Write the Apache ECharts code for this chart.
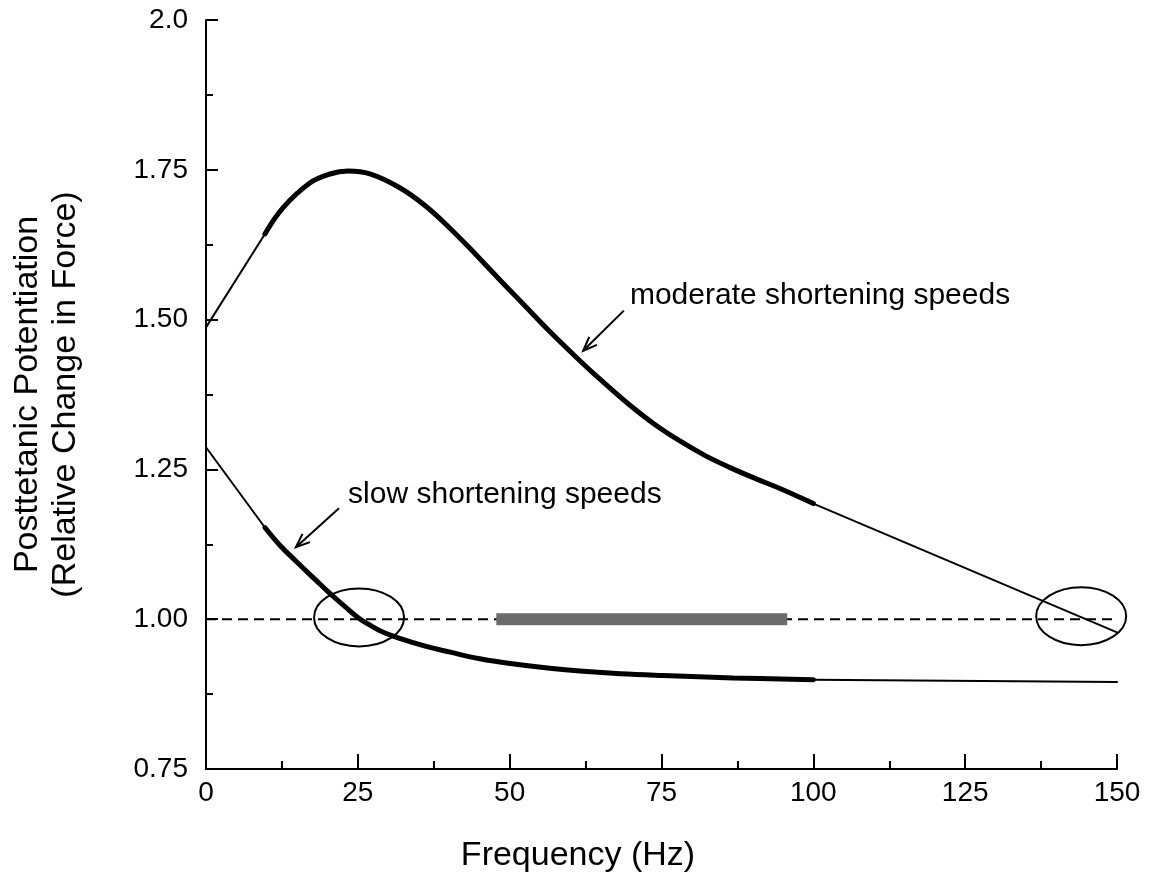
<!DOCTYPE html>
<html><head><meta charset="utf-8">
<script src="https://cdn.jsdelivr.net/npm/echarts@6/dist/echarts.min.js"></script>
<style>html,body{margin:0;padding:0;background:#fff}#c{width:1155px;height:894px}</style>
</head><body><div id="c"></div>
<script>
// ---------- data ----------
const xTickLabels = ['0','25','50','75','100','125','150'];
const yTickValues = [0.75, 1.0, 1.25, 1.5, 1.75, 2.0];
const yTickLabels = ['0.75','1.00','1.25','1.50','1.75','2.0'];
const xAxisTitle = 'Frequency (Hz)';
const yAxisTitle = 'Posttetanic Potentiation\n(Relative Change in Force)';

const moderateStart = [[0,1.487],[9.7,1.643]];
const moderateMain = [[9.7,1.643],[12.7,1.687],[17.1,1.728],[20.4,1.743],[23.4,1.748],[27,1.743],[31.9,1.72],[36.1,1.69],[40.2,1.652],[44.3,1.61],[48.4,1.566],[52.5,1.523],[56.6,1.48],[61.6,1.431],[65.7,1.393],[69.8,1.357],[73.9,1.325],[78.1,1.297],[82.2,1.273],[86.3,1.253],[90.4,1.235],[94.5,1.218],[100,1.193]];
const moderateEnd = [[100,1.193],[150,0.978]];

const slowStart = [[0,1.287],[9.7,1.153]];
const slowMain = [[9.7,1.153],[12.2,1.123],[15,1.095],[18,1.066],[20.4,1.043],[22.9,1.021],[25,1.003],[27,0.99],[29,0.979],[31.9,0.968],[36.1,0.955],[40.2,0.945],[45.1,0.934],[50.1,0.926],[56.6,0.918],[62.1,0.913],[68.2,0.909],[75.3,0.906],[86.8,0.902],[100,0.899]];
const slowEnd = [[100,0.899],[150,0.895]];

const referenceLine = [[0,1.0],[150,1.0]];
const grayBar = [[47.8,1.0],[95.7,1.0]];
const ellipseCenters = [[25.2,1.003],[144.1,1.005]];

const annotationTexts = ['moderate shortening speeds','slow shortening speeds'];
const annotationAnchors = [[69.8,1.54],[23.4,1.208]];
const arrows = [[68.8,1.515,62.1,1.448],[21.9,1.185,14.8,1.12]];

// ---------- chart ----------
const FONT = 'Liberation Sans, Arial, sans-serif';
const chart = echarts.init(document.getElementById('c'), null, {renderer:'canvas'});

function lineSeries(data, width, extra) {
  return Object.assign({
    type:'line', data, showSymbol:false, symbol:'none', smooth:0.4, silent:true,
    lineStyle:{color:'#000', width, cap:'round'}, z:5
  }, extra || {});
}

const option = {
  backgroundColor:'#fff',
  animation:false,
  grid:{left:206, right:38, top:20, bottom:125, containLabel:false},
  graphic:[
    {type:'text', style:{text:xAxisTitle, fontFamily:FONT, fontSize:34, fill:'#000',
      align:'center', verticalAlign:'middle', x:578, y:856}}
  ],
  xAxis:{
    type:'value', min:0, max:150, interval:25,
    axisLine:{show:true, onZero:false, lineStyle:{color:'#000', width:2}},
    axisTick:{show:true, inside:true, length:15, lineStyle:{color:'#000', width:2}},
    minorTick:{show:true, splitNumber:2, length:8, lineStyle:{color:'#000', width:2}},
    axisLabel:{fontFamily:FONT, fontSize:28, color:'#000', margin:10,
      formatter:(v)=>{const i=Math.round(v/25); return xTickLabels[i]||'';}},
    splitLine:{show:false}
  },
  yAxis:{
    type:'value', min:0.75, max:2.0, interval:0.25,
    name:yAxisTitle, nameLocation:'middle', nameGap:121, nameRotate:90,
    nameTextStyle:{fontFamily:FONT, fontSize:34, color:'#000', lineHeight:38},
    axisLine:{show:true, onZero:false, lineStyle:{color:'#000', width:2}},
    axisTick:{show:true, inside:true, length:12, lineStyle:{color:'#000', width:2}},
    minorTick:{show:true, splitNumber:2, length:7, lineStyle:{color:'#000', width:2}},
    axisLabel:{fontFamily:FONT, fontSize:28, color:'#000', margin:18,
      formatter:(v)=>{const i=yTickValues.findIndex(t=>Math.abs(t-v)<1e-6); return i>=0?yTickLabels[i]:'';}},
    splitLine:{show:false}
  },
  series:[
    lineSeries(referenceLine, 2, {smooth:false, lineStyle:{color:'#000', width:2, type:[10,6]}, z:2}),
    lineSeries(grayBar, 12, {smooth:false, lineStyle:{color:'#6b6b6b', width:12, cap:'butt'}, z:3}),
    lineSeries(moderateStart, 2, {smooth:false}),
    lineSeries(moderateMain, 5),
    lineSeries(moderateEnd, 2, {smooth:false}),
    lineSeries(slowStart, 2, {smooth:false}),
    lineSeries(slowMain, 5),
    lineSeries(slowEnd, 2, {smooth:false}),
    {
      type:'custom', data:ellipseCenters, silent:true, z:6, clip:false,
      renderItem:(params, api)=>{
        const p = api.coord([api.value(0), api.value(1)]);
        return {type:'ellipse', shape:{cx:p[0], cy:p[1], rx:45, ry:29},
          style:{fill:'none', stroke:'#000', lineWidth:2}};
      }
    },
    {
      type:'custom', data:arrows, silent:true, z:6, clip:false,
      encode:{x:[0,2], y:[1,3]},
      renderItem:(params, api)=>{
        const a = api.coord([api.value(0), api.value(1)]);
        const b = api.coord([api.value(2), api.value(3)]);
        const ang = Math.atan2(b[1]-a[1], b[0]-a[0]);
        const L = 15, w = 0.38;
        const h1 = [b[0]-L*Math.cos(ang-w), b[1]-L*Math.sin(ang-w)];
        const h2 = [b[0]-L*Math.cos(ang+w), b[1]-L*Math.sin(ang+w)];
        return {type:'group', children:[
          {type:'line', shape:{x1:a[0], y1:a[1], x2:b[0], y2:b[1]}, style:{stroke:'#000', lineWidth:2}},
          {type:'polyline', shape:{points:[h1,b,h2]}, style:{stroke:'#000', lineWidth:2, fill:'none'}}
        ]};
      }
    },
    {
      type:'custom', data:annotationAnchors, silent:true, z:6, clip:false,
      renderItem:(params, api)=>{
        const p = api.coord([api.value(0), api.value(1)]);
        return {type:'text', x:p[0], y:p[1],
          style:{text:annotationTexts[params.dataIndex], fontFamily:FONT, fontSize:30, fill:'#000',
            align:'left', verticalAlign:'middle'}};
      }
    }
  ]
};
chart.setOption(option);
</script>
</body></html>
